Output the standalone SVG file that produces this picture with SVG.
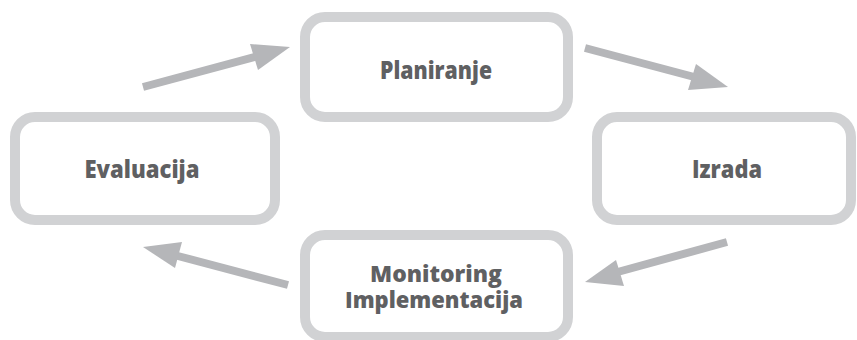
<svg xmlns="http://www.w3.org/2000/svg" width="857" height="340" viewBox="0 0 857 340">
  <style>
    .box { fill: #ffffff; stroke: #d1d2d4; stroke-width: 10; }
    .label { font-family: "Open Sans", "Noto Sans", sans-serif; font-weight: 800; font-size: 24px; fill: #5f6062; text-anchor: middle; }
    .small { font-size: 23px; }
    .shaft { stroke: #b5b6b9; stroke-width: 8; fill: none; }
    .head { fill: #b5b6b9; }
  </style>
  <rect width="857" height="340" fill="#ffffff"/>

  <g id="connectors">
    <!-- Evaluacija -> Planiranje -->
    <line class="shaft" x1="143" y1="87" x2="258" y2="56"/>
    <polygon class="head" points="290,47 250,44 258,70"/>
    <!-- Planiranje -> Izrada -->
    <line class="shaft" x1="585" y1="48" x2="698" y2="78"/>
    <polygon class="head" points="728,87 696,64 688,90"/>
    <!-- Izrada -> Monitoring -->
    <line class="shaft" x1="727" y1="242" x2="614" y2="273"/>
    <polygon class="head" points="585,282 624,286 616,260"/>
    <!-- Monitoring -> Evaluacija -->
    <line class="shaft" x1="288" y1="285" x2="174" y2="255"/>
    <polygon class="head" points="143,247 175,268 182,242"/>
  </g>

  <g id="node-planiranje">
    <rect class="box" x="305" y="17" width="263" height="100" rx="20"/>
    <text class="label" x="436" y="79" textLength="112" lengthAdjust="spacingAndGlyphs">Planiranje</text>
  </g>
  <g id="node-evaluacija">
    <rect class="box" x="15" y="117" width="260" height="103" rx="20"/>
    <text class="label" x="142" y="178" textLength="115" lengthAdjust="spacingAndGlyphs">Evaluacija</text>
  </g>
  <g id="node-izrada">
    <rect class="box" x="597" y="117" width="254" height="103" rx="20"/>
    <text class="label" x="727" y="178" textLength="70" lengthAdjust="spacingAndGlyphs">Izrada</text>
  </g>
  <g id="node-monitoring">
    <rect class="box" x="305" y="235" width="263" height="102" rx="20"/>
    <text class="label small" x="436" y="282" textLength="132" lengthAdjust="spacingAndGlyphs">Monitoring</text>
    <text class="label small" x="434" y="308" textLength="178" lengthAdjust="spacingAndGlyphs">Implementacija</text>
  </g>
</svg>
